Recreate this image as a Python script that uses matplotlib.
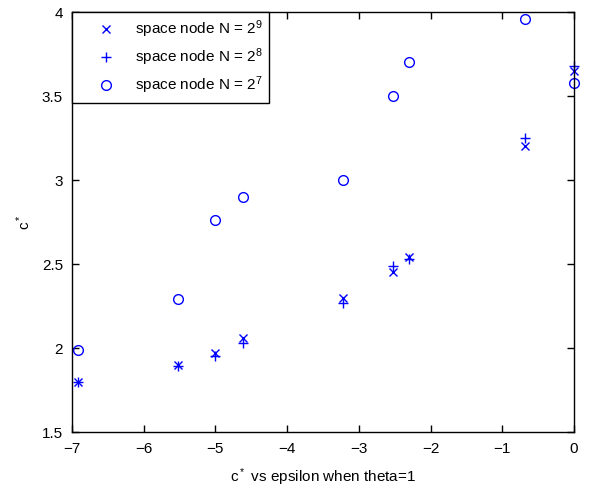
import numpy as np
import matplotlib
matplotlib.use('Agg')
import matplotlib.pyplot as plt

plt.rcParams['font.family'] = ['Liberation Sans', 'DejaVu Sans']
plt.rcParams['font.size'] = 11
plt.rcParams['mathtext.fontset'] = 'custom'
plt.rcParams['mathtext.rm'] = 'Liberation Sans'
plt.rcParams['mathtext.default'] = 'regular'

# log(epsilon) values
log_eps = [-6.91, -5.52, -5.0, -4.61, -3.22, -2.53, -2.30, -0.69, 0.0]

# c* for each grid size
c_n9 = [1.80, 1.90, 1.97, 2.06, 2.30, 2.45, 2.54, 3.20, 3.65]
c_n8 = [1.80, 1.89, 1.95, 2.03, 2.27, 2.49, 2.53, 3.25, 3.68]
c_n7 = [1.99, 2.29, 2.76, 2.90, 3.00, 3.50, 3.70, 3.96, 3.58]

labels = ['space node N = 2$^9$', 'space node N = 2$^8$', 'space node N = 2$^7$']

fig = plt.figure(figsize=(5.89, 4.87), dpi=100)
ax = fig.add_axes([72 / 589, 1 - 432 / 487, 502 / 589, 420 / 487])

ax.plot(log_eps, c_n9, 'x', color='blue', ms=5.5, mew=1, label=labels[0], clip_on=False)
ax.plot(log_eps, c_n8, '+', color='blue', ms=7.5, mew=1, label=labels[1], clip_on=False)
ax.plot(log_eps, c_n7, 'o', color='blue', ms=7, mew=1, mfc='none', label=labels[2], clip_on=False)

ax.set_xlim(-7, 0)
ax.set_ylim(1.5, 4)
ax.set_xticks(np.arange(-7, 1, 1))
ax.set_yticks(np.arange(1.5, 4.01, 0.5))
ax.set_xticklabels(['\u22127', '\u22126', '\u22125', '\u22124', '\u22123', '\u22122', '\u22121', '0'])
ax.set_yticklabels(['1.5', '2', '2.5', '3', '3.5', '4'])
ax.tick_params(direction='in', top=True, right=True, length=5, width=1, labelsize=11)
ax.tick_params(axis='x', pad=7)
ax.tick_params(axis='y', pad=6.5)
for s in ax.spines.values():
    s.set_linewidth(1)

ax.set_xlabel('c$^*$ vs epsilon when theta=1', labelpad=7.5)
ax.set_ylabel('c$^*$')
ax.yaxis.set_label_coords(-0.078, 0.5)

leg = ax.legend(loc='upper left', borderaxespad=0, fancybox=False, edgecolor='black',
                framealpha=1, borderpad=0.45, labelspacing=0.4,
                handlelength=3.6, handletextpad=0.05)
leg.get_frame().set_linewidth(1)

fig.savefig('out.png', dpi=100)
